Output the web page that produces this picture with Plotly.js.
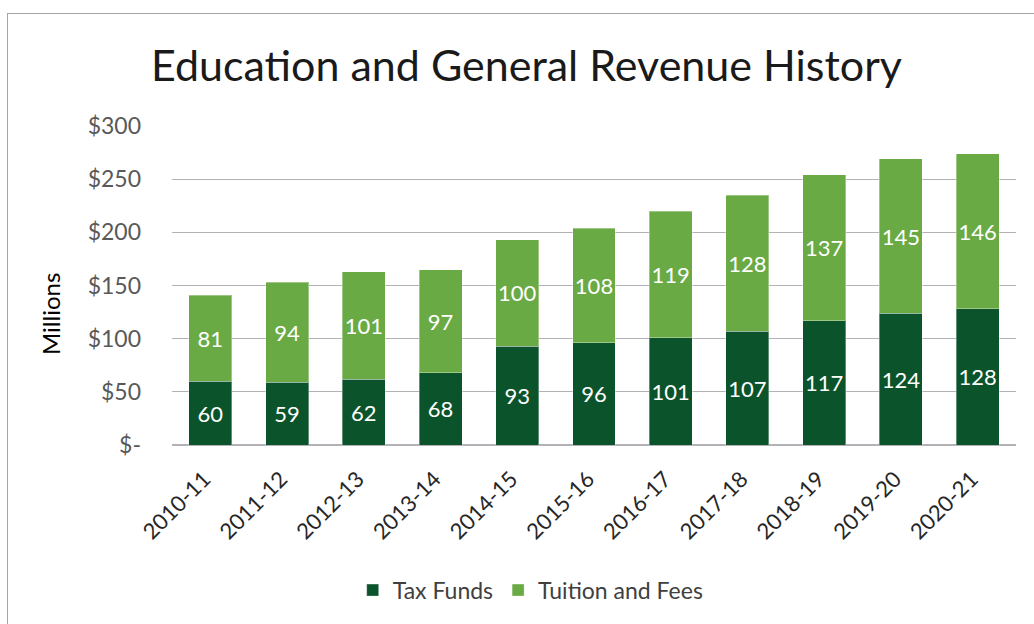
<!DOCTYPE html>
<html>
<head>
<meta charset="utf-8">
<script src="https://cdn.plot.ly/plotly-3.0.1.min.js"></script>
<style>
  html, body { margin: 0; padding: 0; background: #fff; }
  #chart { width: 1034px; height: 624px; position: relative; }
  #frame { position: absolute; left: 7px; top: 13px; width: 1200px; height: 800px;
           border: 1px solid #a6a6a6; pointer-events: none; }
</style>
</head>
<body>
<div id="chart"></div>
<div id="frame"></div>
<script>
const years = ["2010-11","2011-12","2012-13","2013-14","2014-15","2015-16","2016-17","2017-18","2018-19","2019-20","2020-21"];
const taxFunds = [60, 59, 62, 68, 93, 96, 101, 107, 117, 124, 128];
const tuitionFees = [81, 94, 101, 97, 100, 108, 119, 128, 137, 145, 146];
const yTickVals = [0, 50, 100, 150, 200, 250, 300];
const yTickText = ["$-", "$50", "$100", "$150", "$200", "$250", "$300"];

const FONT = "Lato, 'Open Sans', sans-serif";
const darkGreen = "#0b532b";
const lightGreen = "#6aaa44";

const traces = [
  {
    type: "bar", name: "Tax Funds", x: years, y: taxFunds,
    marker: { color: darkGreen, line: { color: "rgba(255,255,255,0.35)", width: 1 } },
    text: taxFunds.map(String), textposition: "inside", insidetextanchor: "middle", textangle: 0,
    textfont: { family: FONT, size: 22, color: "#ffffff" }, constraintext: "none",
    hoverinfo: "x+y"
  },
  {
    type: "bar", name: "Tuition and Fees", x: years, y: tuitionFees,
    marker: { color: lightGreen, line: { color: "rgba(255,255,255,0.35)", width: 1 } },
    text: tuitionFees.map(String), textposition: "inside", insidetextanchor: "middle", textangle: 0,
    textfont: { family: FONT, size: 22, color: "#ffffff" }, constraintext: "none",
    hoverinfo: "x+y"
  }
];

const layout = {
  width: 1034, height: 624,
  margin: { l: 172, r: 18, t: 126, b: 179 },
  paper_bgcolor: "#ffffff", plot_bgcolor: "#ffffff",
  barmode: "stack", bargap: 0.44,
  font: { family: FONT, color: "#595959" },
  title: {
    text: "Education and General Revenue History",
    font: { family: FONT, size: 43, color: "#1a1a1a" },
    x: 0.42, xanchor: "center", y: 0.894, yanchor: "middle", xref: "paper", yref: "container"
  },
  xaxis: {
    type: "category", tickangle: -45,
    tickfont: { family: FONT, size: 22, color: "#262626" },
    showgrid: false, showline: false, ticks: "", zeroline: false,
    ticklabelstandoff: 16, ticklabelshift: -6
  },
  yaxis: {
    range: [0, 300], tickvals: yTickVals, ticktext: yTickText,
    tickfont: { family: FONT, size: 23, color: "#595959" },
    showgrid: true, gridcolor: "#b3b3b7", gridwidth: 1.3,
    zeroline: true, zerolinecolor: "#b3b3b7", zerolinewidth: 1.3,
    showline: false, ticks: "", ticklabelstandoff: 30
  },
  legend: {
    orientation: "h", x: 0.425, xanchor: "center", y: -0.455, yanchor: "middle",
    font: { family: FONT, size: 23, color: "#404040" },
    traceorder: "normal", itemwidth: 30
  },
  annotations: [{
    text: "Millions", textangle: -90, showarrow: false,
    xref: "paper", yref: "paper", x: (50 - 172) / 844, y: (445 - 314) / 319,
    xanchor: "center", yanchor: "middle",
    font: { family: FONT, size: 24, color: "#000000" }
  }],
  showlegend: true
};

Plotly.newPlot("chart", traces, layout, { displayModeBar: false, staticPlot: true });
</script>
</body>
</html>
